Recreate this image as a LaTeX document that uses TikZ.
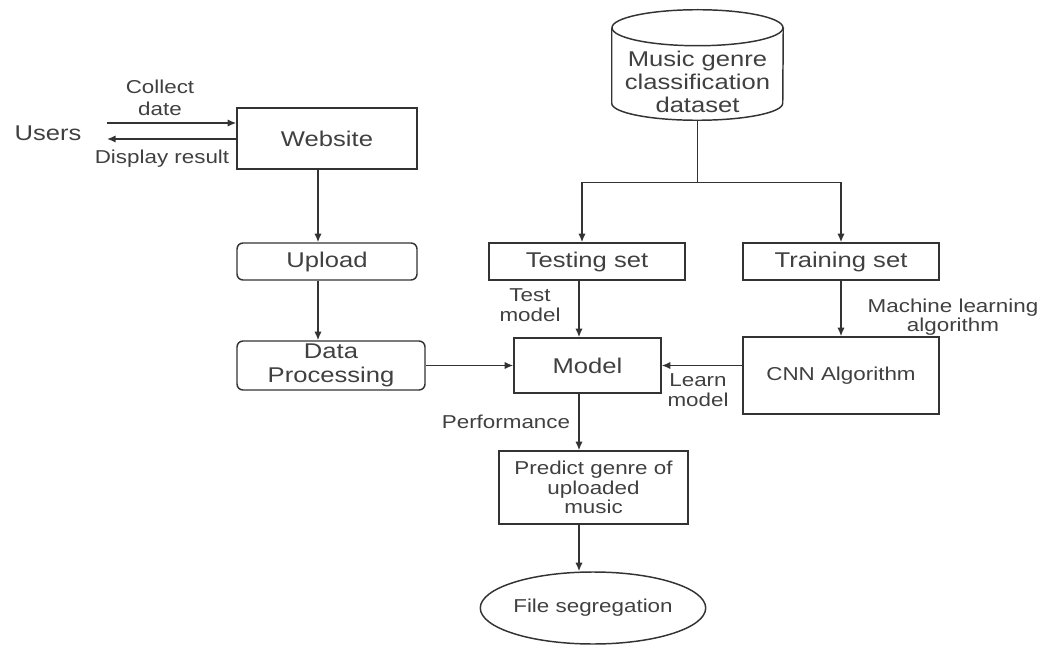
\documentclass[tikz,border=0pt]{standalone}
\usepackage{fontspec}
\setmainfont[FakeStretch=1.2]{Liberation Sans}
\usetikzlibrary{arrows.meta,shapes.geometric}
\begin{document}
\begin{tikzpicture}[x=0.75pt,y=-0.75pt,
  sz/.style 2 args={minimum width=#1*0.75pt, minimum height=#2*0.75pt},
  big/.style={font=\fontsize{16}{17.5}\selectfont},
  small/.style={font=\fontsize{14}{15}\selectfont},
  box/.style={draw=black!80, line width=1.1pt, rectangle, inner sep=0pt, align=center, text=black!75, big},
  rbox/.style={box, rounded corners=4.5pt},
  lbl/.style={text=black!75, small, align=center, inner sep=0pt},
  arr/.style={-{Latex[length=6.5pt,width=5.5pt]}, draw=black!80, line width=1.1pt},
  ln/.style={draw=black!80, line width=1.1pt}]
\useasboundingbox (0,0) rectangle (1042,645);

% nodes
\node[lbl, big] (users) at (48,133) {Users};
\node[box, sz={180}{61}] (web) at (327,138.5) {Website};
\node[rbox, sz={180}{37}] (up) at (327,261.5) {Upload};
\node[rbox, sz={188}{49}] (dp) at (331,365.5) {Data\\Processing};

\node[inner sep=0pt, sz={171}{110}] (ds) at (697.5,65) {};
\node[lbl, big] (dstxt) at (697.5,82) {Music genre\\classification\\dataset};
% cylinder outline
\draw[ln] (ds.north) ++(0,18) ellipse [x radius=64.125pt, y radius=13.5pt];
\draw[ln] ([yshift=-13.5pt]ds.north west) -- ([yshift=12.75pt]ds.south west)
  arc[start angle=180, end angle=360, x radius=64.125pt, y radius=12.75pt]
  -- ([yshift=-13.5pt]ds.north east);

\node[box, sz={196}{37}] (test) at (587,261.5) {Testing set};
\node[box, sz={196}{37}] (train) at (841,261.5) {Training set};
\node[box, sz={147}{55}] (model) at (587.5,365.5) {Model};
\node[box, small, sz={196}{77}] (cnn) at (841,375.5) {CNN Algorithm};
\node[box, font=\fontsize{14}{14.5}\selectfont, sz={189}{73}] (pred) at (593.5,487.5) {Predict genre of\\uploaded\\music};
\node[ellipse, draw=black!80, line width=1.1pt, inner sep=0pt, text=black!75, small, sz={188}{72}] (fs) at (593,608) {File segregation};

% free ends
\coordinate (c1) at (107,123);
\coordinate (c2) at (107,139);

% connectors
\draw[arr] (c1) -- (c1 -| web.west);
\draw[arr] (c2 -| web.west) -- (c2);
\draw[arr] ([xshift=-9*0.75pt]web.south) -- ([xshift=-9*0.75pt]up.north);
\draw[arr] ([xshift=-9*0.75pt]up.south) -- ([xshift=-13*0.75pt]dp.north);
\draw[arr] (dp.east) -- (model.west);
\path (ds.south) ++(0,62) coordinate (split);
\draw[ln] (ds.south) -- (split);
\draw[arr] (split) -| ([xshift=-5*0.75pt]test.north);
\draw[arr] (split) -| (train.north);
\draw[arr] ([xshift=-8*0.75pt]test.south) -- ([xshift=-8.5*0.75pt]model.north);
\draw[arr] (train.south) -- (cnn.north);
\draw[arr] (cnn.west |- model.east) -- (model.east);
\draw[arr] ([xshift=-8.5*0.75pt]model.south) -- ([xshift=-14.5*0.75pt]pred.north);
\draw[arr] ([xshift=-14.5*0.75pt]pred.south) -- ([xshift=-14*0.75pt]fs.north);

% labels
\node[lbl, font=\fontsize{14}{16.5}\selectfont] (lcol) at (160,98) {Collect\\date};
\node[lbl] (ldisp) at (162,159) {Display result};
\node[lbl] (ltest) at (530,305) {Test\\model};
\node[lbl, font=\fontsize{14}{14.5}\selectfont] (lml) at (953,317.5) {Machine learning\\algorithm};
\node[lbl] (llearn) at (698,390) {Learn\\model};
\node[lbl] (lperf) at (506,422) {Performance};
\end{tikzpicture}
\end{document}
